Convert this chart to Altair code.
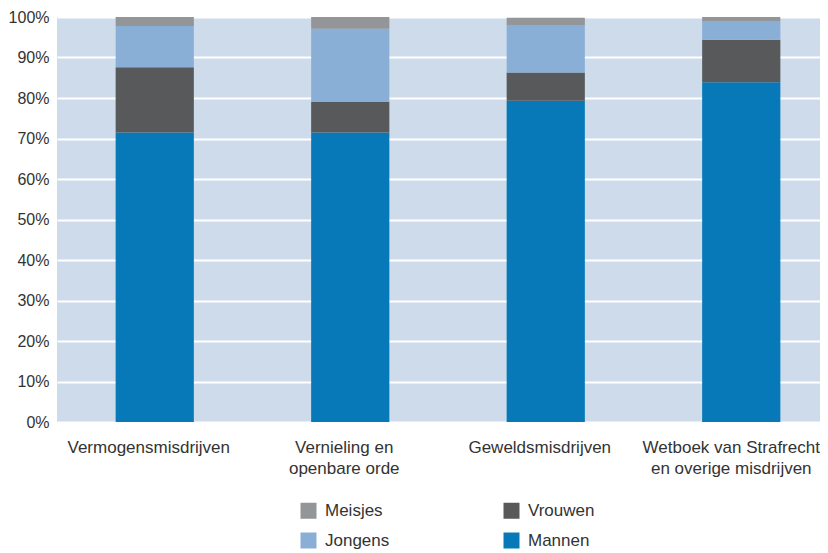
import altair as alt
import pandas as pd

categories = ["Vermogensmisdrijven", "Vernieling en|openbare orde", "Geweldsmisdrijven",
              "Wetboek van Strafrecht|en overige misdrijven"]
groups = ["Mannen", "Vrouwen", "Jongens", "Meisjes"]
mannen = [71.5, 71.5, 79.3, 83.9]
vrouwen = [16.1, 7.5, 7.0, 10.5]
jongens = [10.2, 18.1, 11.7, 4.6]
meisjes = [2.2, 2.9, 1.8, 1.0]
colors = ["#0779b8", "#58595b", "#89afd7", "#939598"]
legend_order = ["Meisjes", "Vrouwen", "Jongens", "Mannen"]

rows = []
for i, c in enumerate(categories):
    for k, (g, vals) in enumerate(zip(groups, [mannen, vrouwen, jongens, meisjes])):
        rows.append({"cat": c, "groep": g, "waarde": vals[i] / 100.0, "volg": k})
df = pd.DataFrame(rows)

FONT = "Liberation Sans"

chart = alt.Chart(df).mark_bar().encode(
    x=alt.X("cat:N", sort=categories, title=None,
            scale=alt.Scale(range=[0, 782], paddingInner=0.6, paddingOuter=0.3),
            axis=alt.Axis(labelAngle=0, labelExpr="split(datum.label, '|')",
                          labelFont=FONT, labelFontSize=17, labelColor="#333333",
                          labelLineHeight=21, labelPadding=17, labelBaseline="top",
                          labelOffset=alt.ConditionalAxisNumber(
                              condition={"test": "indexof(datum.value, 'Wetboek') >= 0", "value": -10},
                              value=-6),
                          ticks=False, domain=False, grid=False, labelLimit=300)),
    y=alt.Y("waarde:Q", stack="zero", title=None,
            scale=alt.Scale(domain=[0, 1], nice=False),
            axis=alt.Axis(format=".0%", values=[i / 10 for i in range(11)],
                          labelFont=FONT, labelFontSize=16, labelColor="#333333",
                          labelPadding=8, ticks=False, domain=False,
                          grid=True, gridColor="#ffffff", gridWidth=2)),
    color=alt.Color("groep:N", scale=alt.Scale(domain=groups, range=colors),
                    sort=legend_order,
                    legend=alt.Legend(title=None, orient="none", legendX=243, legendY=485,
                                      columns=2, direction="horizontal",
                                      symbolType="square", symbolSize=256,
                                      symbolStrokeWidth=0, symbolOpacity=1,
                                      labelFont=FONT, labelFontSize=17, labelColor="#333333",
                                      labelOffset=8, columnPadding=113, rowPadding=12,
                                      values=legend_order)),
    order=alt.Order("volg:Q", sort="ascending"),
).properties(
    width=763, height=405,
    autosize=alt.AutoSizeParams(type="none"),
    padding={"left": 49, "top": 9, "right": 0, "bottom": 128},
).configure_view(
    fill="#cddbeb", stroke=None
)

chart.save("out.html", embed_options={"renderer": "svg", "actions": False})
